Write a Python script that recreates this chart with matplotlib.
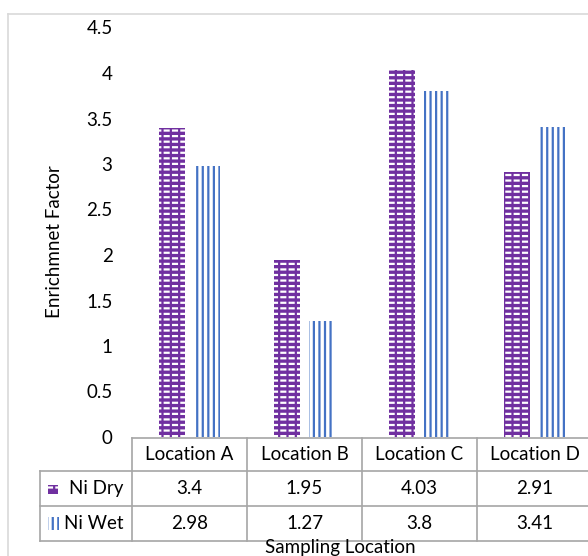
import numpy as np
import matplotlib
matplotlib.use("Agg")
import matplotlib.pyplot as plt
from matplotlib.lines import Line2D
from matplotlib.patches import Rectangle
from matplotlib.transforms import blended_transform_factory

categories = ["Location A", "Location B", "Location C", "Location D"]
ni_dry = [3.4, 1.95, 4.03, 2.91]
ni_wet = [2.98, 1.27, 3.8, 3.41]
series_names = ["Ni Dry", "Ni Wet"]
yticks = [0, 0.5, 1, 1.5, 2, 2.5, 3, 3.5, 4, 4.5]
ytick_labels = ["0", "0.5", "1", "1.5", "2", "2.5", "3", "3.5", "4", "4.5"]

PURPLE = "#7030A0"
BLUE = "#4472C4"
GRID = "#A6A6A6"
FS = 13.5

plt.rcParams['font.family'] = ['Lato', 'DejaVu Sans']
plt.rcParams['hatch.linewidth'] = 1.6

W, H = 588, 556
fig = plt.figure(figsize=(W / 100, H / 100), dpi=100)

def fx(px):
    return px / W

def fy(py):
    return 1 - py / H

ax_left, ax_right, ax_top, ax_bottom = 132, 592, 27.5, 437
ax = fig.add_axes([fx(ax_left), fy(ax_bottom), fx(ax_right - ax_left), (ax_bottom - ax_top) / H])

x = np.arange(len(categories))
off, bw = 0.148, 0.226

# Dry bars: purple with white dashes, then purple vertical breaks
ax.bar(x - off, ni_dry, bw, color=PURPLE, edgecolor="white", hatch="---", linewidth=0)
ax.bar(x - off, ni_dry, bw, color="none", edgecolor=PURPLE, hatch="||", linewidth=0)
# Wet bars: white with blue vertical lines
ax.bar(x + off, ni_wet, bw, color="white", edgecolor=BLUE, hatch="|||", linewidth=0)

ax.set_xlim(-0.5, len(categories) - 0.5)
ax.set_ylim(0, 4.5)
ax.set_yticks(yticks)
ax.set_yticklabels(ytick_labels)
ax.tick_params(axis="y", length=0, pad=14, labelsize=FS)
ax.set_xticks([])
for s in ax.spines.values():
    s.set_visible(False)
ax.set_ylabel("Enrichmnet Factor", fontsize=FS)
ax.yaxis.set_label_coords(fx(63 - ax_left) / fx(ax_right - ax_left), (ax_bottom - 242) / (ax_bottom - ax_top))

# Chart border
fig.add_artist(Line2D([fx(7.5), fx(7.5)], [0, fy(14)], color="#D9D9D9", lw=1.2))
fig.add_artist(Line2D([fx(7.5), 1], [fy(14), fy(14)], color="#D9D9D9", lw=1.2))

# Data table
rows_y = [438, 471, 506, 541]
col_x = [132, 247, 362, 477, 592]
leg_x = 40
lc = dict(color=GRID, lw=1.2)
fig.add_artist(Line2D([fx(132), 1], [fy(rows_y[0])] * 2, **lc))
for yy in rows_y[1:]:
    fig.add_artist(Line2D([fx(leg_x), 1], [fy(yy)] * 2, **lc))
fig.add_artist(Line2D([fx(leg_x)] * 2, [fy(rows_y[1]), fy(rows_y[3])], **lc))
for cx in col_x[:-1]:
    fig.add_artist(Line2D([fx(cx)] * 2, [fy(rows_y[0]), fy(rows_y[3])], **lc))

tr = blended_transform_factory(ax.transData, fig.transFigure)
for i, cat in enumerate(categories):
    fig.text(x[i], fy((rows_y[0] + rows_y[1]) / 2), cat, transform=tr,
             ha="center", va="center", fontsize=FS)
    fig.text(x[i], fy((rows_y[1] + rows_y[2]) / 2), f"{ni_dry[i]:g}", transform=tr,
             ha="center", va="center", fontsize=FS)
    fig.text(x[i], fy((rows_y[2] + rows_y[3]) / 2), f"{ni_wet[i]:g}", transform=tr,
             ha="center", va="center", fontsize=FS)

# Legend keys in table
r1 = (rows_y[1] + rows_y[2]) / 2
r2 = (rows_y[2] + rows_y[3]) / 2
fig.add_artist(Rectangle((fx(48), fy(r1 + 5)), fx(10), 9 / H, facecolor=PURPLE,
                         edgecolor="white", hatch="--", linewidth=0, transform=fig.transFigure))
fig.add_artist(Rectangle((fx(48), fy(r1 + 5)), fx(10), 9 / H, facecolor="none",
                         edgecolor=PURPLE, hatch="||", linewidth=0, transform=fig.transFigure))
fig.add_artist(Rectangle((fx(48), fy(r2 + 6)), fx(11), 13 / H, facecolor="white",
                         edgecolor=BLUE, hatch="|||", linewidth=0, transform=fig.transFigure))
fig.text(fx(69), fy(r1), series_names[0], ha="left", va="center", fontsize=FS)
fig.text(fx(64), fy(r2), series_names[1], ha="left", va="center", fontsize=FS)

fig.text(fx(340), fy(548), "Sampling Location", ha="center", va="center", fontsize=FS)

fig.savefig("out.png", dpi=100)
